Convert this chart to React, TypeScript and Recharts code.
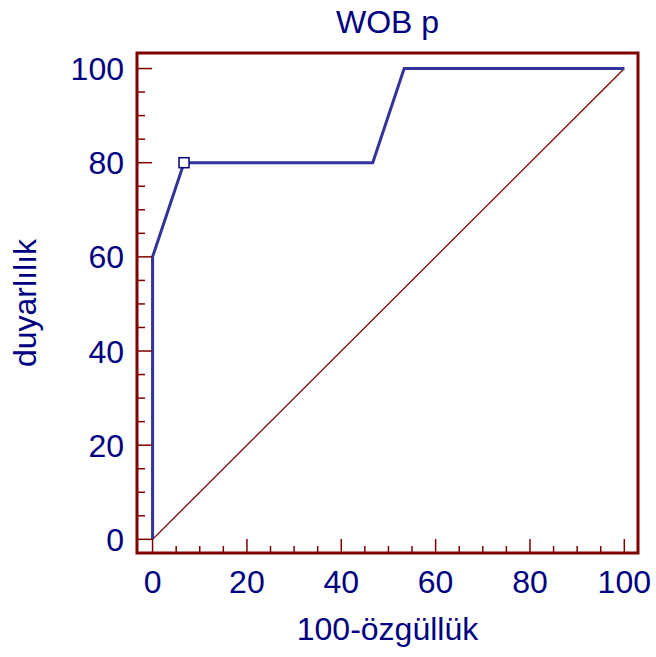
import React from 'react';
import { ComposedChart, Line, Scatter, XAxis, YAxis, ReferenceArea } from 'recharts';

// ROC curve points (100-specificity, sensitivity)
const fpr = [0, 0, 6.67, 46.67, 53.33, 100];
const tpr = [0, 60, 80, 80, 100, 100];
// optimal criterion point
const critX = [6.67];
const critY = [80];
// reference diagonal
const diagX = [0, 100];
const diagY = [0, 100];
const axisTicks = [0, 5, 10, 15, 20, 25, 30, 35, 40, 45, 50, 55, 60, 65, 70, 75, 80, 85, 90, 95, 100];

const FONT = '"Liberation Sans", Arial, sans-serif';
const NAVY = '#000080';
const MAROON = '#800000';

const rocData = fpr.map((x, i) => ({ x, y: tpr[i] }));
const critData = critX.map((x, i) => ({ x, y: critY[i] }));
const diagData = diagX.map((x, i) => ({ x, y: diagY[i] }));

const XTick = (props: any) => {
  const { x, y, payload } = props;
  const major = payload.value % 20 === 0;
  return (
    <g>
      <line x1={x} y1={y} x2={x} y2={y - (major ? 14 : 7)} stroke={MAROON} strokeWidth={1.5} />
      {major && (
        <text x={x} y={y + 40} textAnchor="middle" fill={NAVY} fontSize={32} fontFamily={FONT}>
          {payload.value}
        </text>
      )}
    </g>
  );
};

const YTick = (props: any) => {
  const { x, y, payload } = props;
  const major = payload.value % 20 === 0;
  return (
    <g>
      <line x1={x} y1={y} x2={x + (major ? 15 : 8)} y2={y} stroke={MAROON} strokeWidth={1.5} />
      {major && (
        <text x={x - 13} y={y} dy="0.36em" textAnchor="end" fill={NAVY} fontSize={32} fontFamily={FONT}>
          {payload.value}
        </text>
      )}
    </g>
  );
};

const Square = (props: any) => {
  const { cx, cy } = props;
  return <rect x={cx - 5} y={cy - 5} width={10} height={10} fill="#fff" stroke={NAVY} strokeWidth={1.5} />;
};

const App: React.FC = () => {
  return (
    <div style={{ position: 'absolute', left: 0, top: 0, width: 656, height: 657, background: '#fff' }}>
      <ComposedChart width={656} height={657} margin={{ top: 53, right: 18, left: 0, bottom: 0 }}>
        <XAxis
          type="number"
          dataKey="x"
          domain={[-3.3, 102.9]}
          allowDataOverflow
          ticks={axisTicks}
          interval={0}
          tickSize={0}
          tickMargin={0}
          axisLine={false}
          tick={<XTick />}
          height={104}
        />
        <YAxis
          type="number"
          dataKey="y"
          domain={[-2.9, 103.3]}
          allowDataOverflow
          ticks={axisTicks}
          interval={0}
          tickSize={0}
          tickMargin={0}
          axisLine={false}
          tick={<YTick />}
          width={137}
        />
        <Line data={diagData} dataKey="y" stroke={MAROON} strokeWidth={1.3} dot={false} isAnimationActive={false} />
        <Line data={rocData} dataKey="y" stroke="#333399" strokeWidth={3} dot={false} isAnimationActive={false} />
        <Scatter data={critData} dataKey="y" shape={<Square />} isAnimationActive={false} />
        <ReferenceArea x1={-3.3} x2={102.9} y1={-2.9} y2={103.3} fill="none" stroke={MAROON} strokeWidth={3} fillOpacity={0} />
      </ComposedChart>
      <div style={{ position: 'absolute', left: 137, width: 501, top: 6, lineHeight: '32px', textAlign: 'center', fontFamily: FONT, fontSize: 32, color: NAVY }}>
        WOB p
      </div>
      <div style={{ position: 'absolute', left: 137, width: 501, top: 611, textAlign: 'center', fontFamily: FONT, fontSize: 32, color: NAVY }}>
        100-özgüllük
      </div>
      <div
        style={{
          position: 'absolute',
          left: 25,
          top: 303,
          transform: 'translate(-50%, -50%) rotate(-90deg)',
          whiteSpace: 'nowrap',
          fontFamily: FONT,
          fontSize: 32,
          color: NAVY,
        }}
      >
        duyarlılık
      </div>
    </div>
  );
};

export default App;
